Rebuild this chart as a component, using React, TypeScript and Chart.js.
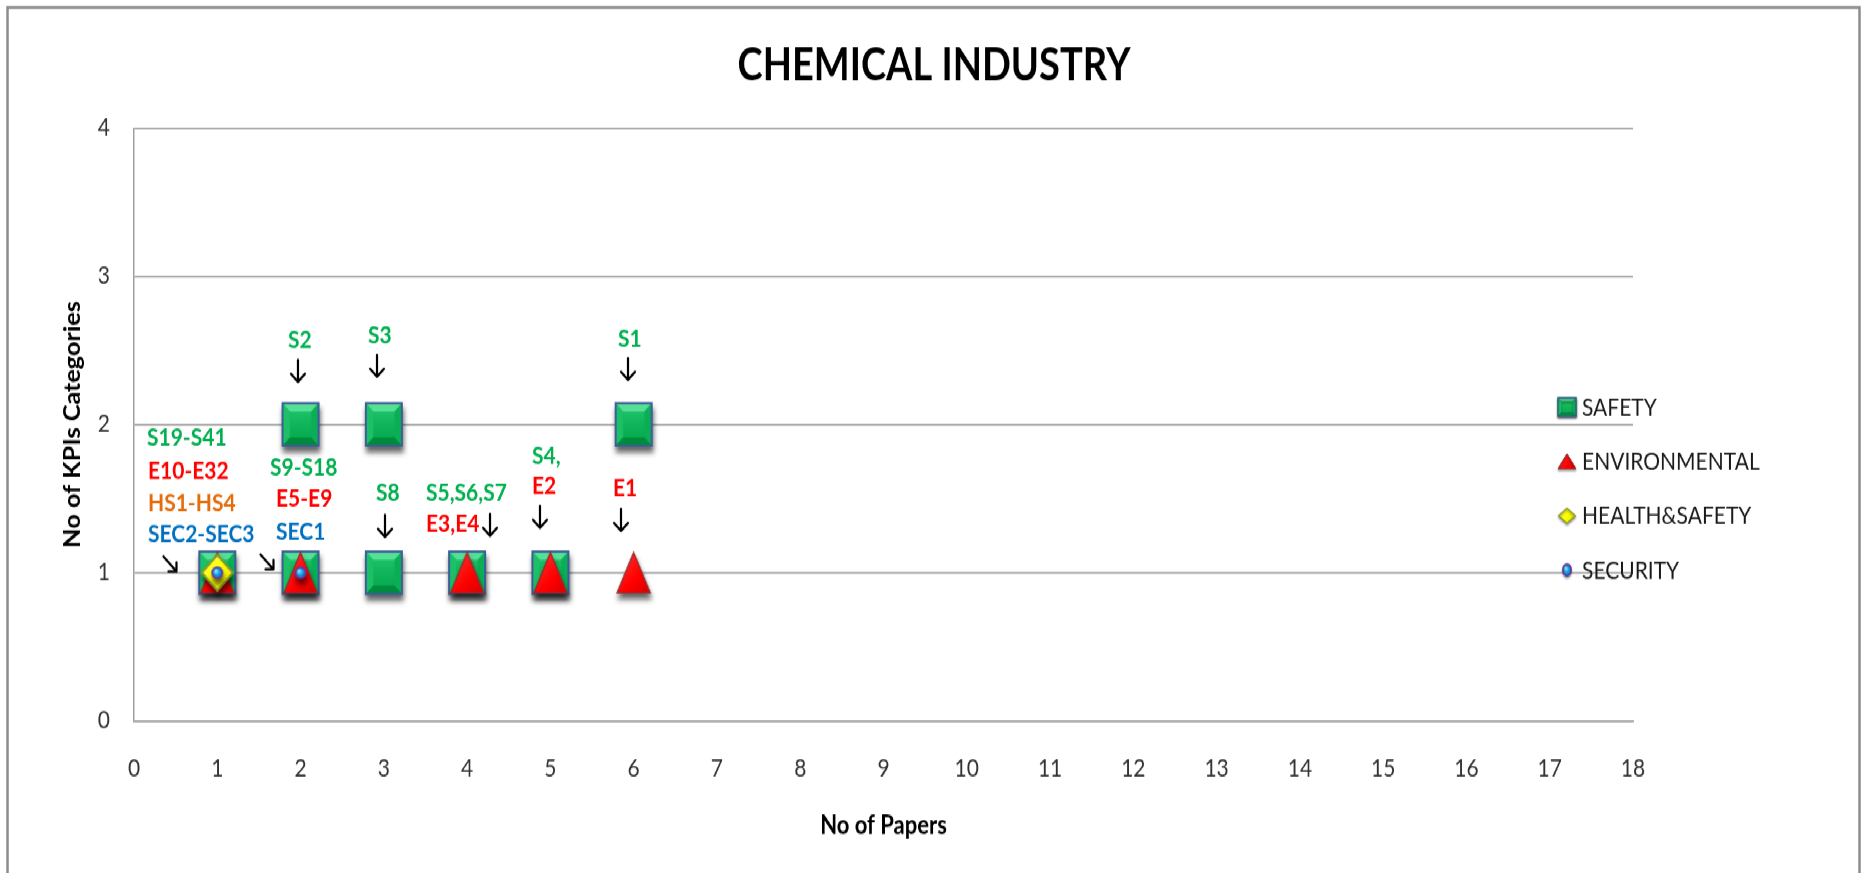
import React, { useEffect, useRef } from 'react';
import { Chart, registerables } from 'chart.js';

Chart.register(...registerables);

// ---- text ----
const TITLE = 'CHEMICAL INDUSTRY';
const X_TITLE = 'No of Papers';
const Y_TITLE = 'No of KPIs Categories';

// ---- axes ----
const X_MIN = 0;
const X_MAX = 18;
const Y_MIN = 0;
const Y_MAX = 4;

// ---- series: number of papers (x) vs number of KPI categories (y) ----
const seriesNames = ['SAFETY', 'ENVIRONMENTAL', 'HEALTH&SAFETY', 'SECURITY'];

const safetyPapers = [1, 2, 2, 3, 3, 4, 5, 6];
const safetyCategories = [1, 1, 2, 2, 1, 1, 1, 2];

const environmentalPapers = [1, 2, 4, 5, 6];
const environmentalCategories = [1, 1, 1, 1, 1];

const healthSafetyPapers = [1];
const healthSafetyCategories = [1];

const securityPapers = [1, 2];
const securityCategories = [1, 1];

// ---- KPI code callouts ----
const GREEN = '#00b050';
const RED = '#ff0000';
const ORANGE = '#e46c0a';
const BLUE = '#0070c0';

const calloutText = [
  'S19-S41', 'E10-E32', 'HS1-HS4', 'SEC2-SEC3',
  'S9-S18', 'E5-E9', 'SEC1',
  'S8', 'S5,S6,S7', 'E3,E4',
  'S4,', 'E2', 'E1', 'S1', 'S2', 'S3',
];
const calloutColor = [
  GREEN, RED, ORANGE, BLUE,
  GREEN, RED, BLUE,
  GREEN, GREEN, RED,
  GREEN, RED, RED, GREEN, GREEN, GREEN,
];
// left edge / vertical centre of each callout, in axis units
const calloutAtX = [0.156, 0.168, 0.168, 0.168, 1.633, 1.705, 1.705, 2.906, 3.506, 3.506, 4.779, 4.779, 5.752, 5.812, 1.849, 2.810];
const calloutAtY = [1.916, 1.693, 1.477, 1.268, 1.713, 1.504, 1.282, 1.545, 1.545, 1.336, 1.788, 1.592, 1.572, 2.583, 2.570, 2.604];

// pointer arrows (centre, in axis units) and heading
const arrowAtX = [0.432, 1.597, 3.014, 4.275, 4.875, 5.848, 5.932, 1.969, 2.918];
const arrowAtY = [1.059, 1.073, 1.315, 1.322, 1.376, 1.356, 2.374, 2.361, 2.395];
const arrowDir = ['se', 'se', 's', 's', 's', 's', 's', 's', 's'];

// ---- drawing surface ----
const CANVAS_W = 1865;
const CANVAS_H = 760;
const PAGE_H = 873;
const STRETCH = PAGE_H / CANVAS_H;

type Painter = (ctx: CanvasRenderingContext2D, x: number, y: number, w: number, h: number) => void;

function poly(ctx: CanvasRenderingContext2D, pts: number[][], fill: string | CanvasGradient) {
  ctx.beginPath();
  ctx.moveTo(pts[0][0], pts[0][1]);
  for (let i = 1; i < pts.length; i++) ctx.lineTo(pts[i][0], pts[i][1]);
  ctx.closePath();
  ctx.fillStyle = fill;
  ctx.fill();
}

const paintSafety: Painter = (ctx, x, y, w, h) => {
  const l = x - w / 2, t = y - h / 2, r = x + w / 2, b = y + h / 2;
  const bv = Math.min(w, h) * 0.22;
  const g = ctx.createLinearGradient(0, t, 0, b);
  g.addColorStop(0, '#22c870');
  g.addColorStop(1, '#00a347');
  ctx.fillStyle = g;
  ctx.fillRect(l, t, w, h);
  poly(ctx, [[l, t], [r, t], [r - bv, t + bv], [l + bv, t + bv]], '#56e096');
  poly(ctx, [[l, t], [l + bv, t + bv], [l + bv, b - bv], [l, b]], '#1cc066');
  poly(ctx, [[r, t], [r, b], [r - bv, b - bv], [r - bv, t + bv]], '#0aae56');
  poly(ctx, [[l, b], [l + bv, b - bv], [r - bv, b - bv], [r, b]], '#008a3e');
  const lw = Math.max(1.2, w / 19);
  ctx.lineWidth = lw;
  ctx.strokeStyle = '#3d5f98';
  ctx.strokeRect(l + lw / 2, t + lw / 2, w - lw, h - lw);
};

const paintEnvironmental: Painter = (ctx, x, y, w, h) => {
  const t = y - h / 2, b = y + h / 2;
  const g = ctx.createLinearGradient(x - w / 2, t, x + w / 2, b);
  g.addColorStop(0, '#ff3b3b');
  g.addColorStop(0.6, '#ff0000');
  g.addColorStop(1, '#d40000');
  ctx.beginPath();
  ctx.moveTo(x, t + 1);
  ctx.lineTo(x + w / 2 - 1, b - 1);
  ctx.lineTo(x - w / 2 + 1, b - 1);
  ctx.closePath();
  ctx.fillStyle = g;
  ctx.fill();
  ctx.lineWidth = Math.max(1, w / 24);
  ctx.strokeStyle = '#9c2b2b';
  ctx.lineJoin = 'miter';
  ctx.stroke();
};

const paintHealthSafety: Painter = (ctx, x, y, w, h) => {
  const g = ctx.createLinearGradient(x - w / 2, y - h / 2, x + w / 2, y + h / 2);
  g.addColorStop(0, '#ffff66');
  g.addColorStop(0.5, '#ffff00');
  g.addColorStop(1, '#e0e000');
  ctx.beginPath();
  ctx.moveTo(x, y - h / 2 + 1);
  ctx.lineTo(x + w / 2 - 1, y);
  ctx.lineTo(x, y + h / 2 - 1);
  ctx.lineTo(x - w / 2 + 1, y);
  ctx.closePath();
  ctx.fillStyle = g;
  ctx.fill();
  ctx.lineWidth = Math.max(1.2, w / 16);
  ctx.strokeStyle = '#8a9a2a';
  ctx.stroke();
};

const paintSecurity: Painter = (ctx, x, y, w, h) => {
  const rx = w / 2 - 0.8, ry = h / 2 - 0.8;
  const g = ctx.createRadialGradient(x - rx * 0.3, y - ry * 0.35, 0.5, x, y, Math.max(rx, ry));
  g.addColorStop(0, '#9be3ff');
  g.addColorStop(0.45, '#1aa8ee');
  g.addColorStop(1, '#0a5fb0');
  ctx.beginPath();
  ctx.ellipse(x, y, rx, ry, 0, 0, Math.PI * 2);
  ctx.fillStyle = g;
  ctx.fill();
  ctx.lineWidth = 1.5;
  ctx.strokeStyle = '#7030a0';
  ctx.stroke();
};

const painters: Painter[] = [paintSafety, paintEnvironmental, paintHealthSafety, paintSecurity];
// plotted marker size (w, h) per series
const markerSize = [[38, 39], [35, 37], [33, 33], [12, 11]];
// legend marker size (w, h) per series
const legendMarkerSize = [[19, 17], [20, 15], [19, 15], [10, 12]];

function makeMarker(p: Painter, w: number, h: number): HTMLCanvasElement {
  const pad = 2;
  const c = document.createElement('canvas');
  c.width = Math.ceil(w + pad * 2);
  c.height = Math.ceil(h + pad * 2);
  const ctx = c.getContext('2d')!;
  p(ctx, c.width / 2, c.height / 2, w, h);
  return c;
}

const LATO = 'Lato, "Open Sans", "DejaVu Sans", sans-serif';

function drawArrow(ctx: CanvasRenderingContext2D, cx: number, cy: number, dir: string) {
  ctx.save();
  ctx.strokeStyle = '#000';
  ctx.lineWidth = 2.2;
  ctx.lineCap = 'round';
  ctx.lineJoin = 'round';
  ctx.beginPath();
  if (dir === 's') {
    const hh = 9.5, a = 7;
    ctx.moveTo(cx, cy - hh);
    ctx.lineTo(cx, cy + hh);
    ctx.moveTo(cx - a, cy + hh - a);
    ctx.lineTo(cx, cy + hh);
    ctx.lineTo(cx + a, cy + hh - a);
  } else {
    const s = 6.5, a = 8;
    ctx.moveTo(cx - s, cy - s);
    ctx.lineTo(cx + s, cy + s);
    ctx.moveTo(cx + s - a, cy + s);
    ctx.lineTo(cx + s, cy + s);
    ctx.lineTo(cx + s, cy + s - a);
  }
  ctx.stroke();
  ctx.restore();
}

const framePlugin = {
  id: 'frame',
  beforeDraw(chart: any) {
    const ctx = chart.ctx as CanvasRenderingContext2D;
    ctx.save();
    ctx.fillStyle = '#ffffff';
    ctx.fillRect(0, 0, chart.width, chart.height);
    ctx.strokeStyle = '#8c8c8c';
    ctx.lineWidth = 2.5;
    ctx.strokeRect(7.5, 6.5, 1852, chart.height + 20);
    ctx.restore();
  },
};

const shadowPlugin = {
  id: 'markerShadow',
  beforeDatasetDraw(chart: any) {
    const ctx = chart.ctx as CanvasRenderingContext2D;
    ctx.save();
    ctx.shadowColor = 'rgba(0,0,0,0.6)';
    ctx.shadowBlur = 5;
    ctx.shadowOffsetX = 1;
    ctx.shadowOffsetY = 5;
  },
  afterDatasetDraw(chart: any) {
    chart.ctx.restore();
  },
};

const decorPlugin = {
  id: 'decor',
  afterDraw(chart: any) {
    const ctx = chart.ctx as CanvasRenderingContext2D;
    const xs = chart.scales.x;
    const ys = chart.scales.y;
    ctx.save();

    // chart title
    ctx.fillStyle = '#000';
    ctx.font = `bold 41px ${LATO}`;
    ctx.textAlign = 'center';
    ctx.textBaseline = 'alphabetic';
    ctx.fillText(TITLE, 934, 70, 393);

    // KPI code callouts
    const fs = 21;
    ctx.font = `bold ${fs}px ${LATO}`;
    ctx.textAlign = 'left';
    for (let i = 0; i < calloutText.length; i++) {
      const px = xs.getPixelForValue(calloutAtX[i]);
      const py = ys.getPixelForValue(calloutAtY[i]);
      ctx.fillStyle = calloutColor[i];
      ctx.fillText(calloutText[i], px, py + fs * 0.358);
    }
    for (let i = 0; i < arrowDir.length; i++) {
      drawArrow(ctx, xs.getPixelForValue(arrowAtX[i]), ys.getPixelForValue(arrowAtY[i]), arrowDir[i]);
    }

    // legend
    const lx = 1567;
    const top = 354.3;
    const step = 47.3;
    const lfs = 21;
    ctx.font = `${lfs}px ${LATO}`;
    ctx.textAlign = 'left';
    chart.data.datasets.forEach((ds: any, i: number) => {
      const cy = top + step * i;
      const [w, h] = legendMarkerSize[i];
      ctx.save();
      ctx.shadowColor = 'rgba(0,0,0,0.35)';
      ctx.shadowBlur = 2;
      ctx.shadowOffsetY = 1.5;
      painters[i](ctx, lx, cy, w, h);
      ctx.restore();
      ctx.fillStyle = '#1a1a1a';
      ctx.fillText(ds.label, 1582, cy + lfs * 0.358);
    });

    ctx.restore();
  },
};

export default function App() {
  const canvasRef = useRef<HTMLCanvasElement | null>(null);

  useEffect(() => {
    const canvas = canvasRef.current;
    if (!canvas) return;

    const markers = painters.map((p, i) => makeMarker(p, markerSize[i][0], markerSize[i][1]));
    const pairs = (xs: number[], ys: number[]) => xs.map((x, i) => ({ x, y: ys[i] }));

    const chart = new Chart(canvas, {
      type: 'scatter',
      data: {
        datasets: [
          { label: seriesNames[0], data: pairs(safetyPapers, safetyCategories), pointStyle: markers[0], order: 4 },
          { label: seriesNames[1], data: pairs(environmentalPapers, environmentalCategories), pointStyle: markers[1], order: 3 },
          { label: seriesNames[2], data: pairs(healthSafetyPapers, healthSafetyCategories), pointStyle: markers[2], order: 2 },
          { label: seriesNames[3], data: pairs(securityPapers, securityCategories), pointStyle: markers[3], order: 1 },
        ] as any,
      },
      options: {
        animation: false,
        responsive: true,
        maintainAspectRatio: false,
        events: [],
        layout: { padding: { top: 111.4, right: CANVAS_W - 1633, left: 0, bottom: 0 } },
        plugins: {
          legend: { display: false },
          title: { display: false },
          tooltip: { enabled: false },
        },
        scales: {
          x: {
            type: 'linear',
            min: X_MIN,
            max: X_MAX,
            ticks: {
              stepSize: 1,
              color: '#333',
              padding: 29,
              font: { family: LATO, size: 21 },
            },
            grid: { display: false, drawTicks: false },
            border: { display: true, color: '#a0a0a0', width: 1.5 },
            title: {
              display: true,
              text: X_TITLE,
              color: '#000',
              font: { family: LATO, size: 22, weight: 'bold' },
              padding: { top: 0, bottom: 28 },
            },
            afterFit(scale: any) {
              scale.height = CANVAS_H - 627.7;
            },
          },
          y: {
            type: 'linear',
            min: Y_MIN,
            max: Y_MAX,
            ticks: {
              stepSize: 1,
              color: '#333',
              padding: 24,
              font: { family: LATO, size: 21 },
            },
            grid: { color: '#a0a0a0', lineWidth: 1.5, drawTicks: false },
            border: { display: true, color: '#a0a0a0', width: 1.5 },
            title: {
              display: true,
              text: Y_TITLE,
              color: '#000',
              font: { family: LATO, size: 22, weight: 'bold' },
              padding: { top: 60, bottom: 0 },
            },
            afterFit(scale: any) {
              scale.width = 134;
            },
          },
        },
      } as any,
      plugins: [framePlugin, shadowPlugin, decorPlugin],
    });

    return () => chart.destroy();
  }, []);

  return (
    <div
      style={{
        position: 'fixed',
        left: 0,
        top: 0,
        width: CANVAS_W,
        height: CANVAS_H,
        background: '#fff',
        transform: `scaleY(${STRETCH})`,
        transformOrigin: '0 0',
      }}
    >
      <canvas ref={canvasRef} />
    </div>
  );
}
